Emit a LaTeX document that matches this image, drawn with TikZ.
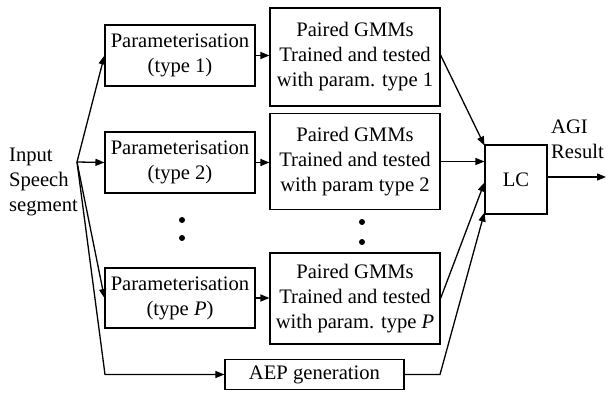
\documentclass[tikz,border=0pt]{standalone}
\usepackage{fontspec}
\setmainfont{Liberation Serif}
\usetikzlibrary{arrows.meta}
\begin{document}
\begin{tikzpicture}[x=1pt,y=-1pt,
  box/.style={draw,line width=1.1pt,rectangle,inner sep=0pt,align=center,font=\fontsize{20.6}{25}\selectfont},
  lbl/.style={inner sep=0pt,align=left,font=\fontsize{20.6}{25}\selectfont},
  conn/.style={line width=1.3pt,-{Triangle[length=9pt,width=7pt]}},
  dotm/.style={fill=black,circle,inner sep=0pt,minimum size=6pt}]
\useasboundingbox (0,0) rectangle (606,394);
% parameterisation boxes
\node[box,minimum width=150pt,minimum height=61pt] (p1) at (180,55.5) {Parameterisation\\(type 1)};
\node[box,minimum width=150pt,minimum height=61pt] (p2) at (180,162.5) {Parameterisation\\(type 2)};
\node[box,minimum width=150pt,minimum height=60pt] (pP) at (180,298) {Parameterisation\\(type \textit{P})};
% GMM boxes
\node[box,minimum width=170pt,minimum height=98pt] (g1) at (355,57) {Paired GMMs\\Trained and tested\\with param. type 1};
\node[box,minimum width=170pt,minimum height=96pt] (g2) at (355,161.5) {Paired GMMs\\Trained and tested\\with param type 2};
\node[box,minimum width=170pt,minimum height=91pt] (gP) at (355,298.5) {Paired GMMs\\Trained and tested\\with param. type \textit{P}};
% LC and AEP
\node[box,minimum width=62pt,minimum height=69pt] (lc) at (516,179.5) {LC};
\node[box,minimum width=179pt,minimum height=30pt] (aep) at (314.5,374.5) {AEP generation};
% labels
\node[lbl,anchor=west] (in) at (9,182) {Input\\Speech\\segment};
\node[lbl,anchor=west] (res) at (551,139.5) {AGI\\Result};
% dots
\node[dotm] (d1) at (182,220) {};
\node[dotm] (d2) at (182,238) {};
\node[dotm] (d3) at (362,222) {};
\node[dotm] (d4) at (362,242) {};
% coordinates
\coordinate (br) at (77,162);
\coordinate (c1) at (105,374.5);
\coordinate (c2) at (440,374.5);
\coordinate (out) at (606,177);
% connectors
\draw[conn] (br) -- (p1.west);
\draw[conn] (br) -- (p2.west);
\draw[conn] (br) -- (pP.west);
\draw[conn] (br) -- (c1) -- (aep.west);
\draw[conn] (p1.east) -- (p1.east -| g1.west);
\draw[conn] (p2.east) -- (p2.east -| g2.west);
\draw[conn] (pP.east) -- (pP.east -| gP.west);
\draw[conn] ([yshift=2pt]g1.east) -- ([yshift=-1pt]lc.north west);
\draw[conn] (g2.east) -- (g2.east -| lc.west);
\draw[conn] (gP.east) -- ([yshift=-3pt]lc.west);
\draw[conn] (aep.east) -- (c2) -- ([yshift=2pt]lc.south west);
\draw[conn] (lc.east |- out) -- (out);
\end{tikzpicture}
\end{document}
